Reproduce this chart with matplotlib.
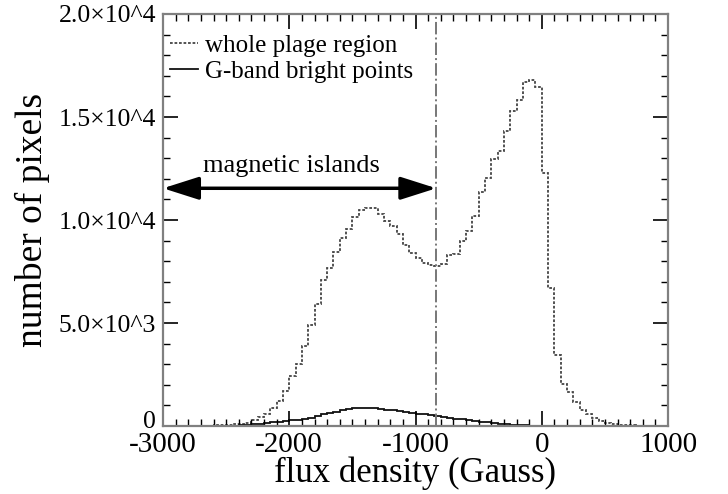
import numpy as np
import matplotlib
matplotlib.use("Agg")
import matplotlib.pyplot as plt
import matplotlib.transforms as mtransforms
from matplotlib.ticker import MultipleLocator

# ---- data ----
flux_edges = np.arange(-3000, 1001, 50)  # 50 G bins from -3000 to 1000

whole_plage = [
    0, 0, 0, 0, 5, 10,
    15, 20, 30, 40, 60, 80, 110, 160, 290, 450, 570, 860, 1210, 1710, 2430,
    2990, 3900, 4900, 5940, 7090, 7690, 8450, 9110, 9550, 10160,
    10490, 10570, 10570, 10280, 9950, 9710, 9300, 8790, 8410, 8140,
    7900, 7830, 7770, 7850, 8280, 8350, 8980, 9470, 10210, 11340,
    12020, 12940, 13350, 14320, 15290, 15830, 16710, 16800, 16470,
    12300, 6680, 3450, 2040, 1670, 1150, 780, 570, 400, 240,
    160, 80, 60, 40, 30, 20, 15, 10, 5, 5,
]

gband_bp = [
    0, 0, 0, 0, 0, 0,
    0, 0, 0, 0, 10, 20, 35, 55, 80, 110, 140, 170, 200, 230, 270,
    300, 360, 410, 470, 560, 620, 700, 770, 820, 860,
    880, 890, 870, 840, 800, 760, 720, 680, 640, 600,
    560, 520, 480, 440, 400, 360, 320, 280, 240, 200,
    170, 140, 110, 85, 65, 45, 30, 20, 15,
    10, 5, 5, 0, 0, 0, 0, 0, 0, 0,
    0, 0, 0, 0, 0, 0, 0, 0, 0, 0,
]

island_boundary = -835
arrow_level = 11540
xticks = [-3000, -2000, -1000, 0, 1000]
xtick_labels = ["-3000", "-2000", "-1000", "0", "1000"]
yticks = [0, 5000, 10000, 15000, 20000]
ytick_labels = ["0", "5.0\u00d710^3", "1.0\u00d710^4", "1.5\u00d710^4", "2.0\u00d710^4"]

plt.rcParams['font.family'] = ['Liberation Serif', 'DejaVu Serif']

fig = plt.figure(figsize=(7.28, 4.94), dpi=100)
ax = fig.add_axes([163/728, 1-426/494, (668-163)/728, (426-14)/494])

ax.stairs(whole_plage, flux_edges, color='#444444', linewidth=1.3,
          linestyle=(0, (1.5, 1.0)), label='whole plage region')
ax.stairs(gband_bp, flux_edges, color='#111111', linewidth=1.3,
          label='G-band bright points')

ax.axvline(island_boundary, color='#777777', linewidth=1.4, linestyle='-.')

ax.annotate('', xy=(-3000, arrow_level), xytext=(island_boundary, arrow_level),
            arrowprops=dict(arrowstyle='<|-|>,head_length=2.2,head_width=0.7',
                            color='black', lw=2.5, shrinkA=0, shrinkB=0))
ax.text(-1980, arrow_level + 550, 'magnetic islands',
        ha='center', va='bottom', fontsize=19)

ax.set_xlim(-3000, 1000)
ax.set_ylim(0, 20000)
ax.set_xticks(xticks)
ax.set_xticklabels(xtick_labels)
ax.set_yticks(yticks)
ax.set_yticklabels(ytick_labels)
ax.xaxis.set_minor_locator(MultipleLocator(100))
ax.yaxis.set_minor_locator(MultipleLocator(1000))
ax.tick_params(which='both', direction='in', top=True, right=True)
ax.tick_params(which='major', length=11, width=1.2)
ax.tick_params(which='minor', length=5, width=1.0)
ax.tick_params(axis='x', pad=4, labelsize=21)
ax.tick_params(axis='y', pad=5, labelsize=18.5)

# lift the "0" y label slightly, as in the reference
zero_lbl = ax.get_yticklabels()[0]
zero_lbl.set_transform(zero_lbl.get_transform() +
                       mtransforms.ScaledTranslation(0, 7/100, fig.dpi_scale_trans))

for s in ax.spines.values():
    s.set_color('#808080')
    s.set_linewidth(1.6)

ax.set_xlabel('flux density (Gauss)', fontsize=25, labelpad=-1)
ax.set_ylabel('number of pixels', fontsize=27, labelpad=6)

leg = ax.legend(loc='upper left', frameon=False, fontsize=18, handlelength=1.1,
                handletextpad=0.3, borderaxespad=0.0, labelspacing=0.15,
                bbox_to_anchor=(-0.005, 0.975))

fig.savefig('out.png', dpi=100)
